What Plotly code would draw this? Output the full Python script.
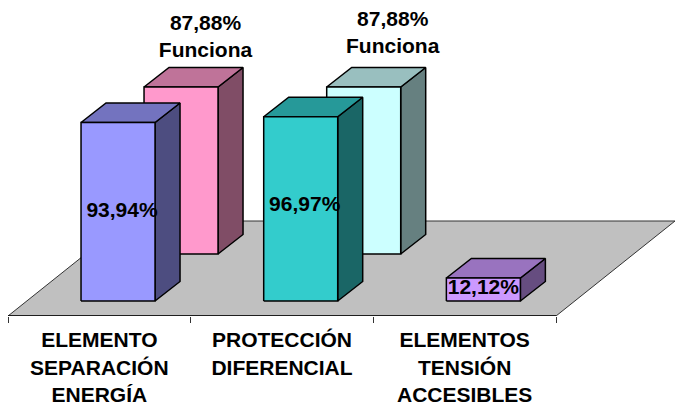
import plotly.graph_objects as go

categories = ["ELEMENTO<br>SEPARACIÓN<br>ENERGÍA", "PROTECCIÓN<br>DIFERENCIAL", "ELEMENTOS<br>TENSIÓN<br>ACCESIBLES"]
front_values = [93.94, 96.97, 12.12]
back_values = [87.88, 87.88, None]
back_suffix = "Funciona"

front_colors = [("#9999FF", "#7373BF", "#4D4D80"),
                ("#33CCCC", "#269999", "#1A6666"),
                ("#CC99FF", "#9973BF", "#664D80")]
back_colors = [("#FF99CC", "#BF7399", "#804D66"),
               ("#CCFFFF", "#99BFBF", "#668080"),
               None]

# Oblique projection constants (data units: 1 category across, 1 % up)
PX_PER_CAT = 548 / 3
PX_PER_PCT = 1.9
BAR_W = 74 / PX_PER_CAT
BAR_DX, BAR_DY = 25 / PX_PER_CAT, 19.5 / PX_PER_PCT
FRONT_DX, FRONT_DY = 18.7 / PX_PER_CAT, 0.0
ROW_DX, ROW_DY = 63 / PX_PER_CAT, 47 / PX_PER_PCT
FLOOR_Y0 = -15 / PX_PER_PCT
FLOOR_DX, FLOOR_DY = 119 / PX_PER_CAT, 95 / PX_PER_PCT

fig = go.Figure()


def poly(xs, ys, fill, line="#000000", width=1.5):
    fig.add_trace(go.Scatter(
        x=list(xs) + [xs[0]], y=list(ys) + [ys[0]], mode="lines", fill="toself",
        fillcolor=fill, line=dict(color=line, width=width, simplify=False),
        hoverinfo="skip", showlegend=False, cliponaxis=False))


def bar3d(i, value, row, colors):
    front, top, side = colors
    x0 = i + 0.5 + FRONT_DX - BAR_W / 2 + row * ROW_DX
    x1 = x0 + BAR_W
    b = FRONT_DY + row * ROW_DY
    t = b + value
    poly([x1, x1 + BAR_DX, x1 + BAR_DX, x1], [b, b + BAR_DY, t + BAR_DY, t], side)
    poly([x0, x1, x1 + BAR_DX, x0 + BAR_DX], [t, t, t + BAR_DY, t + BAR_DY], top)
    poly([x0, x1, x1, x0], [b, b, t, t], front)


# Floor
n = len(categories)
poly([0, n, n + FLOOR_DX, FLOOR_DX],
     [FLOOR_Y0, FLOOR_Y0, FLOOR_Y0 + FLOOR_DY, FLOOR_Y0 + FLOOR_DY], "#C0C0C0", "#333333", 1)
# Category axis line along the front edge of the floor
fig.add_trace(go.Scatter(x=[0, n], y=[FLOOR_Y0, FLOOR_Y0], mode="lines",
                         line=dict(color="#000000", width=1.5),
                         hoverinfo="skip", showlegend=False, cliponaxis=False))

for i, (v, c) in enumerate(zip(back_values, back_colors)):
    if v is not None:
        bar3d(i, v, 1, c)
for i, (v, c) in enumerate(zip(front_values, front_colors)):
    bar3d(i, v, 0, c)


def pct(v):
    return f"{v:.2f}".replace(".", ",") + "%"


# Value labels, anchored on the bars
front_nudge = [(4 / PX_PER_CAT, 0), (4 / PX_PER_CAT, 1.5), (0, 0.5)]
fig.add_trace(go.Scatter(
    x=[i + 0.5 + FRONT_DX + front_nudge[i][0] for i in range(n)],
    y=[v / 2 + front_nudge[i][1] for i, v in enumerate(front_values)],
    mode="text", text=[pct(v) for v in front_values], textposition="middle center",
    textfont=dict(family="Liberation Sans", size=21, color="#000000", weight=700),
    hoverinfo="skip", showlegend=False, cliponaxis=False))

back_idx = [i for i, v in enumerate(back_values) if v is not None]
back_nudge = [(-0.5 / PX_PER_CAT, 25.7), (4 / PX_PER_CAT, 27.7)]
fig.add_trace(go.Scatter(
    x=[i + 0.5 + FRONT_DX + ROW_DX + BAR_DX + back_nudge[k][0] for k, i in enumerate(back_idx)],
    y=[ROW_DY + back_values[i] + back_nudge[k][1] for k, i in enumerate(back_idx)],
    mode="text", text=[pct(back_values[i]) + "<br>" + back_suffix for i in back_idx],
    textposition="middle center",
    textfont=dict(family="Liberation Sans", size=21, color="#000000", weight=700),
    hoverinfo="skip", showlegend=False, cliponaxis=False))

fig.update_layout(
    width=675, height=406, autosize=False,
    margin=dict(l=0, r=0, t=0, b=90, pad=0),
    paper_bgcolor="#FFFFFF", plot_bgcolor="rgba(0,0,0,0)",
    xaxis=dict(
        domain=[0, 1], range=[-8 / PX_PER_CAT, 667 / PX_PER_CAT], showgrid=False, zeroline=False,
        showline=False,
        tickmode="array", tickvals=[i + 0.5 for i in range(n)], ticktext=categories,
        ticks="outside", ticklen=0, tickangle=0, ticklabelstandoff=5,
        tickfont=dict(family="Liberation Sans", size=21, color="#000000", weight=700),
        minor=dict(tickmode="array", tickvals=list(range(n + 1)), ticks="outside",
                   ticklen=6, tickcolor="#333333", tickwidth=1, showgrid=False),
        fixedrange=True),
    yaxis=dict(
        domain=[0, 1], range=[FLOOR_Y0, 301 / PX_PER_PCT], visible=False, fixedrange=True),
)

fig.write_html("out.html", post_script="document.body.style.margin='0';document.body.style.overflow='hidden';",
               config=dict(displayModeBar=False))
